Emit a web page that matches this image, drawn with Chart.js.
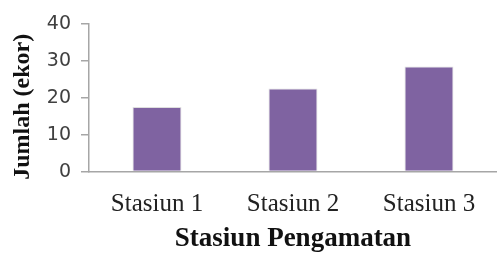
<!DOCTYPE html>
<html>
<head>
<meta charset="utf-8">
<script src="https://cdn.jsdelivr.net/npm/chart.js@4/dist/chart.umd.min.js"></script>
<style>
  body { margin: 0; background: #fff; }
</style>
</head>
<body>
<canvas id="myChart" width="497" height="253"></canvas>
<script>
var stations = ["Stasiun 1", "Stasiun 2", "Stasiun 3"];
var jumlah = [17.5, 22.5, 28.5];
var yTicks = [0, 10, 20, 30, 40];

const ctx = document.getElementById("myChart");
new Chart(ctx, {
  type: "bar",
  data: {
    labels: stations,
    datasets: [
      {
        label: "Jumlah",
        data: jumlah,
        backgroundColor: "#7f63a1",
        borderColor: "#dedede",
        borderWidth: 1,
        barPercentage: 0.36,
        categoryPercentage: 1,
      },
    ],
  },
  options: {
    responsive: false,
    animation: false,
    layout: {
      padding: { top: 24, right: 0, left: 8, bottom: 0 },
    },
    plugins: {
      legend: { display: false },
      tooltip: { enabled: false },
    },
    scales: {
      x: {
        grid: { display: false },
        border: { display: true, color: "#a6a6a6", width: 1.5 },
        ticks: {
          padding: 10,
          color: "#222",
          font: { family: "Liberation Serif", size: 25 },
        },
        title: {
          display: true,
          text: "Stasiun Pengamatan",
          color: "#111",
          padding: { top: -7, bottom: -2 },
          font: { family: "Liberation Serif", size: 27, weight: "bold" },
        },
      },
      y: {
        min: 0,
        max: 40,
        afterBuildTicks: function (axis) {
          axis.ticks = yTicks.map(function (v) { return { value: v }; });
        },
        grid: {
          drawOnChartArea: false,
          drawTicks: true,
          tickLength: 8,
          color: "#a6a6a6",
          lineWidth: 1.5,
        },
        border: { display: true, color: "#a6a6a6", width: 1.5 },
        ticks: {
          padding: 10,
          color: "#404040",
          font: { family: "DejaVu Sans", size: 19 },
        },
        title: {
          display: true,
          text: "Jumlah (ekor)   ",
          color: "#111",
          padding: { top: 0, bottom: 0 },
          font: { family: "Liberation Serif", size: 24, weight: "bold" },
        },
      },
    },
  },
});
</script>
</body>
</html>
